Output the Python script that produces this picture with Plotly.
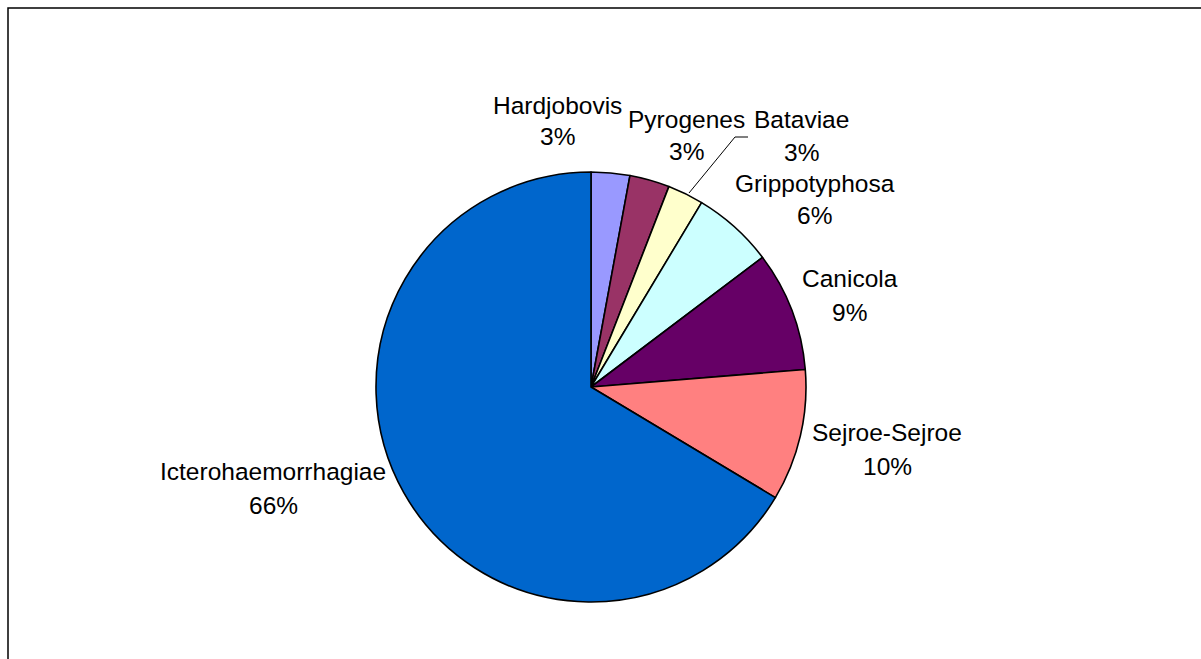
import plotly.graph_objects as go

# Data
labels = ["Hardjobovis", "Pyrogenes", "Bataviae", "Grippotyphosa",
          "Canicola", "Sejroe-Sejroe", "Icterohaemorrhagiae"]
values = [2.9, 3.0, 2.7, 6.1, 9.0, 9.9, 66.4]
colors = ["#9999FF", "#993366", "#FFFFCC", "#CCFFFF",
          "#660066", "#FF8080", "#0066CC"]

W, H = 1201, 659
FONT = "Arial, Liberation Sans, sans-serif"
FS = 24.5


def px(x, y):
    return x / W, 1 - y / H


# pie geometry (pixels)
cx, cy, r = 591, 387, 215
x0, y1p = px(cx - r, cy - r)
x1, y0p = px(cx + r, cy + r)

fig = go.Figure(go.Pie(
    labels=labels, values=values, sort=False, direction="clockwise",
    rotation=0, textinfo="none", hoverinfo="label+percent",
    marker=dict(colors=colors, line=dict(color="black", width=1.6)),
    domain=dict(x=[x0, x1], y=[y0p, y1p]), showlegend=False,
))

# label positions (pixel centre of name line, pixel centre of percent line)
label_pos = [
    (557.5, 105, 136),
    (686, 119, 152),
    (801, 119, 153),
    (814.5, 183, 215),
    (849.5, 278.5, 312.5),
    (887, 432.5, 466),
    (273, 471, 505),
]
total = sum(values)
annotations = []
for lab, v, (lx, ly1, ly2) in zip(labels, values, label_pos):
    pct = f"{round(v / total * 100):d}%"
    for txt, ly in ((lab, ly1), (pct, ly2)):
        ax, ay = px(lx, ly)
        annotations.append(dict(
            x=ax, y=ay, xref="paper", yref="paper", text=txt,
            showarrow=False, xanchor="center", yanchor="middle",
            font=dict(family=FONT, size=FS, color="black")))

# leader line for Bataviae
p1 = px(689, 193)
p2 = px(735, 137)
p3 = px(748, 137)
shapes = [
    dict(type="path", xref="paper", yref="paper",
         path=f"M {p1[0]},{p1[1]} L {p2[0]},{p2[1]} L {p3[0]},{p3[1]}",
         line=dict(color="black", width=1)),
    # chart area border
    dict(type="rect", xref="paper", yref="paper",
         x0=8 / W, y0=-0.05, x1=1.05, y1=1 - 8 / H,
         line=dict(color="black", width=1.5)),
]

fig.update_layout(
    width=W, height=H, margin=dict(l=0, r=0, t=0, b=0),
    paper_bgcolor="white", plot_bgcolor="white",
    annotations=annotations, shapes=shapes,
)

fig.write_html("out.html")
